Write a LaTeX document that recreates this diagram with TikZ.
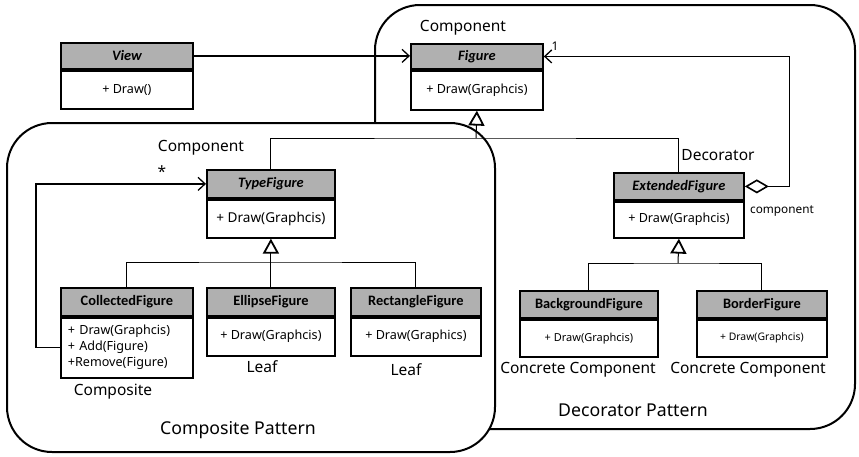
\documentclass[tikz,border=0pt]{standalone}
\usepackage{fontspec}
\setmainfont{Noto Sans}
\newfontfamily\hdrfont{Carlito}
\usetikzlibrary{arrows.meta}
\begin{document}
\begin{tikzpicture}[x=1pt,y=-1pt,
 cls/.style={draw, line width=1.8pt, anchor=north west, inner sep=0pt},
 hdr/.style={cls, fill=gray!62, font=\hdrfont\fontsize{14.4}{15}\selectfont\bfseries},
 bdy/.style={cls, fill=white, font=\fontsize{12.6}{16}\selectfont, align=center},
 lbl/.style={font=\fontsize{15.5}{18}\selectfont, inner sep=0pt},
 big/.style={font=\fontsize{17.7}{20}\selectfont, inner sep=0pt},
 conn/.style={line width=0.9pt},
 assoc/.style={line width=1.3pt, -{Straight Barb[length=7pt,width=13pt]}},
 gen/.style={line width=1pt, -{Triangle[open,length=15pt,width=16pt,line width=1.8pt]}},
 region/.style={draw, line width=2pt, rounded corners=45pt, fill=white}
]
\useasboundingbox (0,0) rectangle (859,456);

% pattern regions
\draw[region] (375,5) rectangle (855,429);
\draw[region] (7,123) rectangle (495,452);

% classes
\node[hdr, minimum width=132pt, minimum height=26pt] (view) at (60,42) {\itshape View};
\node[bdy, minimum width=132pt, minimum height=38pt] (viewb) at (view.south west) {+ Draw()};

\node[hdr, minimum width=132pt, minimum height=25pt] (fig) at (410,43) {\itshape Figure};
\node[bdy, minimum width=132pt, minimum height=39pt] (figb) at (fig.south west) {+ Draw(Graphcis)};

\node[hdr, minimum width=128pt, minimum height=28pt] (type) at (206,169) {\itshape TypeFigure};
\node[bdy, minimum width=128pt, minimum height=38pt, font=\fontsize{13.6}{16}\selectfont] (typeb) at (type.south west) {+ Draw(Graphcis)};

\node[hdr, minimum width=130pt, minimum height=27pt] (ext) at (613,172) {\itshape ExtendedFigure};
\node[bdy, minimum width=130pt, minimum height=36pt] (extb) at (ext.south west) {+ Draw(Graphcis)};

\node[hdr, minimum width=132pt, minimum height=28pt] (coll) at (60,287) {CollectedFigure};
\node[bdy, minimum width=132pt, minimum height=60pt, align=left, text width=118pt, inner xsep=7pt] (collb) at (coll.south west) {+ Draw(Graphcis)\\+ Add(Figure)\\+Remove(Figure)};

\node[hdr, minimum width=128pt, minimum height=28pt] (ell) at (206,287) {EllipseFigure};
\node[bdy, minimum width=128pt, minimum height=38pt] (ellb) at (ell.south west) {+ Draw(Graphcis)};

\node[hdr, minimum width=130pt, minimum height=28pt] (rect) at (350,287) {RectangleFigure};
\node[bdy, minimum width=130pt, minimum height=38pt] (rectb) at (rect.south west) {+ Draw(Graphics)};

\node[hdr, minimum width=138pt, minimum height=27pt] (bg) at (519,290) {BackgroundFigure};
\node[bdy, minimum width=138pt, minimum height=37pt, font=\fontsize{11}{13}\selectfont] (bgb) at (bg.south west) {+ Draw(Graphcis)};

\node[hdr, minimum width=130pt, minimum height=27pt] (bord) at (696,290) {BorderFigure};
\node[bdy, minimum width=130pt, minimum height=37pt, font=\fontsize{10.4}{13}\selectfont] (bordb) at (bord.south west) {+ Draw(Graphcis)};

% connectors
\draw[assoc] (view.east) -- (view.east -| fig.west);
\draw[assoc, {Diamond[open,length=24pt,width=14pt,line width=1.6pt]}-{Straight Barb[length=7pt,width=13pt]}] (ext.east) -- ++(45,0) |- (fig.east);

\coordinate (gj) at (476,138);
\draw[conn] (type.north) |- (gj) -| (ext.north);
\draw[gen] (gj) -- (figb.south);

\coordinate (cj) at (270,262);
\draw[conn] (coll.north) |- (cj) -| (rect.north);
\draw[gen] (ell.north) -- (typeb.south);

\draw[assoc] (collb.west) -- ++(-24,0) |- (type.west);

\coordinate (dj) at (678,263);
\draw[conn] (bg.north) |- (dj) -| (bord.north);
\draw[gen] (dj) -- (extb.south);

% labels
\node[lbl] (l1) at (463,28) {Component};
\node[lbl, font=\fontsize{12}{14}\selectfont] (l2) at (555,46) {1};
\node[lbl] (l3) at (201,148) {Component};
\node[lbl] (l4) at (162,172) {*};
\node[lbl] (l5) at (718,155) {Decorator};
\node[lbl, font=\fontsize{11.8}{14}\selectfont] (l6) at (782,211) {component};
\node[lbl] (l7) at (113,392) {Composite};
\node[lbl] (l8) at (262,367) {Leaf};
\node[lbl] (l9) at (406,370) {Leaf};
\node[big] (l10) at (238,430) {Composite Pattern};
\node[lbl] (l11) at (578,370) {Concrete Component};
\node[lbl] (l12) at (748,370) {Concrete Component};
\node[big] (l13) at (633,410) {Decorator Pattern};
\end{tikzpicture}
\end{document}
